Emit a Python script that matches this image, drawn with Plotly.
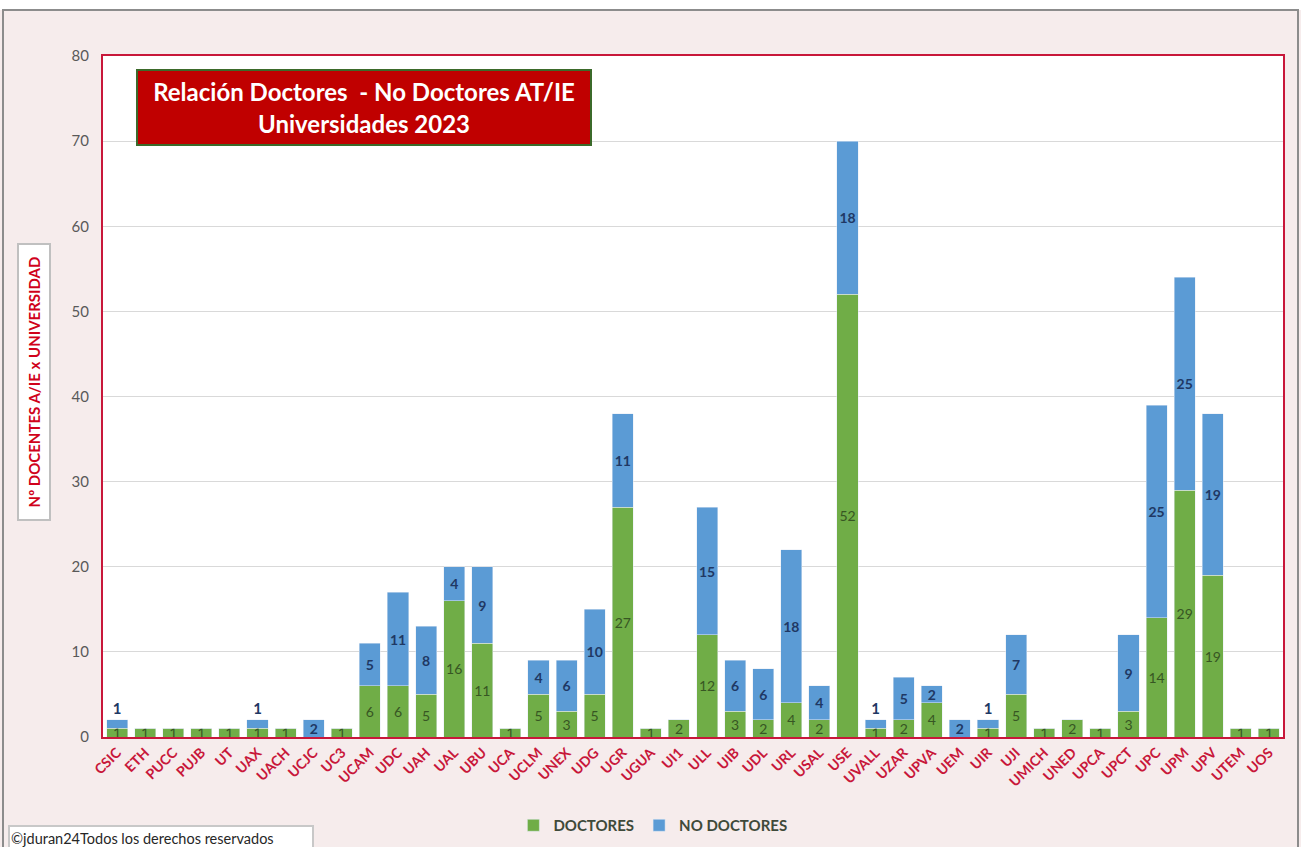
import plotly.graph_objects as go

categories = ["CSIC", "ETH", "PUCC", "PUJB", "UT", "UAX", "UACH", "UCJC", "UC3", "UCAM",
              "UDC", "UAH", "UAL", "UBU", "UCA", "UCLM", "UNEX", "UDG", "UGR", "UGUA",
              "UI1", "ULL", "UIB", "UDL", "URL", "USAL", "USE", "UVALL", "UZAR", "UPVA",
              "UEM", "UIR", "UJI", "UMICH", "UNED", "UPCA", "UPCT", "UPC", "UPM", "UPV",
              "UTEM", "UOS"]
doctores = [1, 1, 1, 1, 1, 1, 1, 0, 1, 6,
            6, 5, 16, 11, 1, 5, 3, 5, 27, 1,
            2, 12, 3, 2, 4, 2, 52, 1, 2, 4,
            0, 1, 5, 1, 2, 1, 3, 14, 29, 19,
            1, 1]
no_doctores = [1, 0, 0, 0, 0, 1, 0, 2, 0, 5,
               11, 8, 4, 9, 0, 4, 6, 10, 11, 0,
               0, 15, 6, 6, 18, 4, 18, 1, 5, 2,
               2, 1, 7, 0, 0, 0, 9, 25, 25, 19,
               0, 0]

FONT = "Lato"
RED = "#c8173a"

def labels(vals):
    return [str(v) if v else "" for v in vals]

blue_pos = ["outside" if (v == 1 and d > 0) else "inside" for v, d in zip(no_doctores, doctores)]

fig = go.Figure()
fig.add_trace(go.Bar(
    x=categories, y=doctores, name="DOCTORES",
    marker=dict(color="#70ad47"),
    text=labels(doctores), textposition="inside", insidetextanchor="middle",
    constraintext="none", textangle=0,
    insidetextfont=dict(family=FONT, size=14, color="#375623"),
))
fig.add_trace(go.Bar(
    x=categories, y=no_doctores, name="NO DOCTORES",
    marker=dict(color="#5b9bd5"),
    text=labels(no_doctores), textposition=blue_pos, insidetextanchor="middle",
    constraintext="none", textangle=0, cliponaxis=False,
    insidetextfont=dict(family=FONT, size=14, color="#1f3864", weight="bold"),
    outsidetextfont=dict(family=FONT, size=15, color="#1f3864", weight="bold"),
))

fig.update_layout(
    width=1301, height=847,
    margin=dict(l=103, r=18, t=56, b=110, autoexpand=False),
    barmode="stack", bargap=0.25,
    paper_bgcolor="#f6ecec", plot_bgcolor="white",
    font=dict(family=FONT),
    showlegend=True,
    legend=dict(orientation="h", x=0.466, xanchor="center", y=-0.13, yanchor="middle",
                font=dict(family=FONT, size=15, color="#3f4a3a", weight="bold"),
                bgcolor="rgba(0,0,0,0)", itemwidth=30, traceorder="normal"),
    xaxis=dict(tickangle=-45, tickfont=dict(family=FONT, size=14, color=RED, weight="bold"),
               showline=True, linecolor=RED, linewidth=2, mirror=True, ticks="",
               automargin=False),
    yaxis=dict(range=[0, 80], dtick=10, tickfont=dict(family=FONT, size=15, color="#595959"),
               showgrid=True, gridcolor="#d9d9d9", gridwidth=1,
               showline=True, linecolor=RED, linewidth=2, mirror=True,
               zeroline=False, ticklabelstandoff=9, automargin=False),
)

# white strip above frame and outer frame
fig.add_shape(type="rect", xref="paper", yref="paper",
              x0=-0.1, x1=1.05, y0=(737 - 10) / 681, y1=1.2,
              fillcolor="white", line=dict(width=0), layer="above")
fig.add_shape(type="rect", xref="paper", yref="paper",
              x0=(3 - 103) / 1180, x1=(1298 - 103) / 1180,
              y0=-0.2, y1=(737 - 10) / 681,
              fillcolor="rgba(0,0,0,0)", line=dict(color="#8c8c8c", width=2), layer="above")

# title box
fig.add_annotation(
    xref="paper", yref="paper", x=(136 - 103) / 1180, y=(737 - 69) / 681,
    xanchor="left", yanchor="top",
    text="Relación Doctores  - No Doctores AT/IE<br>Universidades 2023",
    showarrow=False, align="center",
    font=dict(family=FONT, size=24, color="white", weight="bold"),
    bgcolor="#c00000", bordercolor="#3b6a2a", borderwidth=2,
    width=450, height=71,
)

# y-axis title box
fig.add_annotation(
    xref="paper", yref="paper", x=(34 - 103) / 1180, y=(737 - 382) / 681,
    xanchor="center", yanchor="middle", textangle=-90,
    text="Nº DOCENTES A/IE x UNIVERSIDAD", showarrow=False,
    font=dict(family=FONT, size=15, color="#d0021b", weight="bold"),
    bgcolor="white", bordercolor="#c0c0c0", borderwidth=2,
    width=272, height=28,
)

# copyright box
fig.add_annotation(
    xref="paper", yref="paper", x=(8 - 103) / 1180, y=(737 - 825) / 681,
    xanchor="left", yanchor="top",
    text="©jduran24Todos los derechos reservados", showarrow=False, align="left",
    font=dict(family=FONT, size=14.5, color="#262626"),
    bgcolor="white", bordercolor="#c8c8c8", borderwidth=2,
    width=300, height=20,
)

fig.write_html("out.html",
               config={"displayModeBar": False},
               post_script="document.body.style.margin='0';document.body.style.overflow='hidden';")
